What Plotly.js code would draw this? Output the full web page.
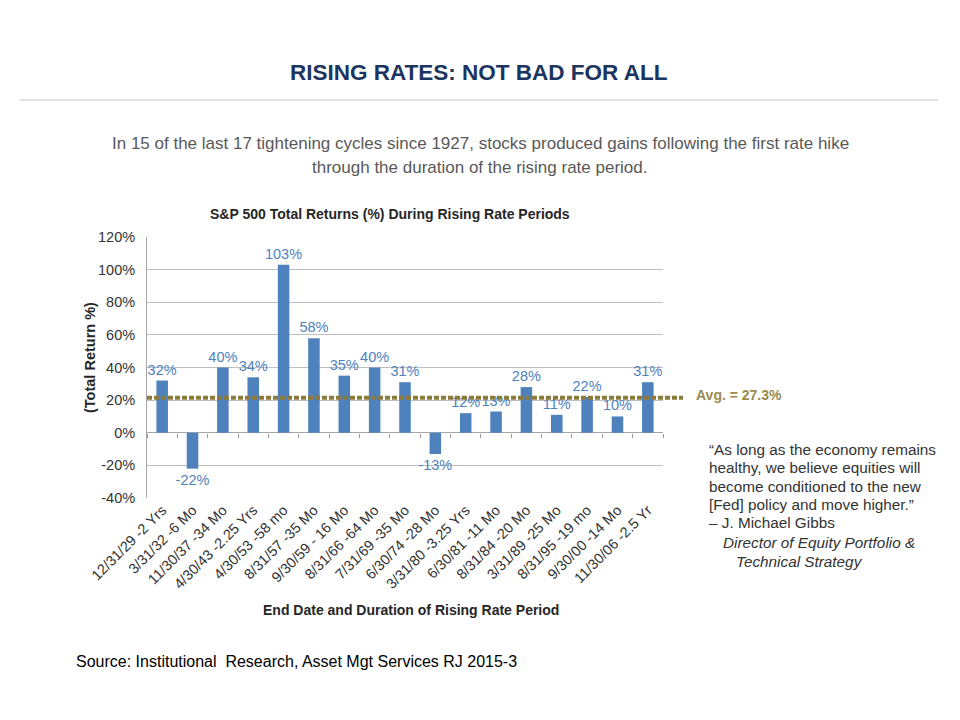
<!DOCTYPE html>
<html><head><meta charset="utf-8">
<script src="https://cdn.plot.ly/plotly-3.0.1.min.js"></script>
<style>body{margin:0;background:#fff}#chart{width:960px;height:720px}</style>
</head><body><div id="chart"></div>
<script>
// ---- data ----
const categories = ["12/31/29 -2 Yrs","3/31/32 -6 Mo","11/30/37 -34 Mo","4/30/43 -2.25 Yrs","4/30/53 -58 mo","8/31/57 -35 Mo","9/30/59 - 16 Mo","8/31/66 -64 Mo","7/31/69 -35 Mo","6/30/74 -28 Mo","3/31/80 -3.25 Yrs","6/30/81 -11 Mo","8/31/84 -20 Mo","3/31/89 -25 Mo","8/31/95 -19 mo","9/30/00 -14 Mo","11/30/06 -2.5 Yr"];
const returnsPct = [32,-22,40,34,103,58,35,40,31,-13,12,13,28,11,22,10,31];
const avgLineLevel = 21.5;          // where the dotted average line is drawn in the picture
const avgLabel = "Avg. = 27.3%";
const yTickVals = [-40,-20,0,20,40,60,80,100,120];
const mainTitle = "RISING RATES: NOT BAD FOR ALL";
const subtitleLines = ["In 15 of the last 17 tightening cycles since 1927, stocks produced gains following the first rate hike","through the duration of the rising rate period."];
const chartTitle = "S&P 500 Total Returns (%) During Rising Rate Periods";
const yTitle = "(Total Return %)";
const xTitle = "End Date and Duration of Rising Rate Period";
const quoteLines = ["\u201CAs long as the economy remains","healthy, we believe equities will","become conditioned to the new","[Fed] policy and move higher.\u201D","\u2013 J. Michael Gibbs"];
const quoteRoleLines = ["Director of Equity Portfolio &","Technical Strategy"];
const sourceText = "Source: Institutional  Research, Asset Mgt Services RJ 2015-3";

// ---- layout helpers (pixel -> paper) ----
const L=147, R=663, T=237, B=498;
const W=R-L, H=B-T;
const px = x => (x-L)/W;
const py = y => (B-y)/H;
const FONT = "Arial, 'Liberation Sans', sans-serif";

const boundaries = categories.map((c,i)=>i-0.5).concat([categories.length-0.5]);

const traces = [
  {
    type:'bar', x:categories, y:returnsPct,
    marker:{color:'#4F81BD'},
    text:returnsPct.map(v=>v+'%'), textposition:'outside', constraintext:'none',
    textfont:{family:FONT,size:14.5,color:'#4F81BD'},
    cliponaxis:false, hoverinfo:'x+y', showlegend:false
  },
  {
    type:'scatter', mode:'none', xaxis:'x2', yaxis:'y',
    x:[boundaries[0], boundaries[boundaries.length-1]], y:[0,0],
    hoverinfo:'skip', showlegend:false
  }
];

const ann = [];
function A(text,x,y,opts){ann.push(Object.assign({text,xref:'paper',yref:'paper',x:px(x),y:py(y),showarrow:false,xanchor:'center',yanchor:'middle',font:{family:FONT,size:14,color:'#333'}},opts||{}));}

A('<b>'+mainTitle+'</b>',479,72,{font:{family:FONT,size:22.5,color:'#1B3560'}});
A(subtitleLines[0],480,143,{font:{family:FONT,size:17,color:'#595959'}});
A(subtitleLines[1],480,167,{font:{family:FONT,size:17,color:'#595959'}});
A('<b>'+chartTitle+'</b>',390,214,{font:{family:FONT,size:14,color:'#262626'}});
A('<b>'+yTitle+'</b>',90,358,{textangle:-90,font:{family:FONT,size:14.5,color:'#262626'}});
A('<b>'+xTitle+'</b>',411,610,{font:{family:FONT,size:14,color:'#262626'}});
A('<b>'+avgLabel+'</b>',694,395,{xanchor:'left',font:{family:FONT,size:14,color:'#9A8A4E'}});
const qy=[449,467,486,504,522];
quoteLines.forEach((t,i)=>A(t,707,qy[i],{xanchor:'left',font:{family:FONT,size:15.3,color:'#333'}}));
A('<i>'+quoteRoleLines[0]+'</i>',721,542,{xanchor:'left',font:{family:FONT,size:15.3,color:'#333'}});
A('<i>'+quoteRoleLines[1]+'</i>',734,561,{xanchor:'left',font:{family:FONT,size:15.3,color:'#333'}});
A(sourceText,74,661,{xanchor:'left',font:{family:FONT,size:16,color:'#000'}});

const layout = {
  width:960, height:720,
  margin:{l:L, r:960-R, t:T, b:720-B, pad:0},
  paper_bgcolor:'#fff', plot_bgcolor:'#fff',
  bargap:0.62,
  font:{family:FONT,color:'#333'},
  xaxis:{type:'category', tickangle:-45, tickfont:{family:FONT,size:14.5,color:'#333'},
         showgrid:false, showline:false, ticks:'', ticklen:0, automargin:false, fixedrange:true},
  xaxis2:{type:'linear', overlaying:'x', anchor:'free', position:(0-yTickVals[0])/(yTickVals[yTickVals.length-1]-yTickVals[0]),
          range:[boundaries[0], boundaries[boundaries.length-1]], tickmode:'array', tickvals:boundaries,
          ticks:'outside', ticklen:4, tickcolor:'#999', showticklabels:false, showgrid:false, showline:false, zeroline:false},
  yaxis:{range:[yTickVals[0], yTickVals[yTickVals.length-1]], tickmode:'array', tickvals:yTickVals,
         ticktext:yTickVals.map(v=>v+'%'), tickfont:{family:FONT,size:14.5,color:'#333'}, ticklabelstandoff:8,
         showgrid:true, gridcolor:'#BFBFBF', gridwidth:1, zeroline:true, zerolinecolor:'#A6A6A6', zerolinewidth:1,
         showline:true, linecolor:'#A6A6A6', linewidth:1, ticks:'', automargin:false, fixedrange:true},
  shapes:[
    {type:'line', xref:'paper', yref:'paper', x0:px(20), x1:px(938), y0:py(100), y1:py(100), line:{color:'#D9D9D9',width:1.5}},
    {type:'line', xref:'paper', yref:'y', x0:0, x1:px(683), y0:avgLineLevel, y1:avgLineLevel, line:{color:'#8C7A3A',width:4,dash:'5px,2px'}}
  ],
  annotations:ann
};

Plotly.newPlot('chart', traces, layout, {displayModeBar:false, staticPlot:true});
</script></body></html>
